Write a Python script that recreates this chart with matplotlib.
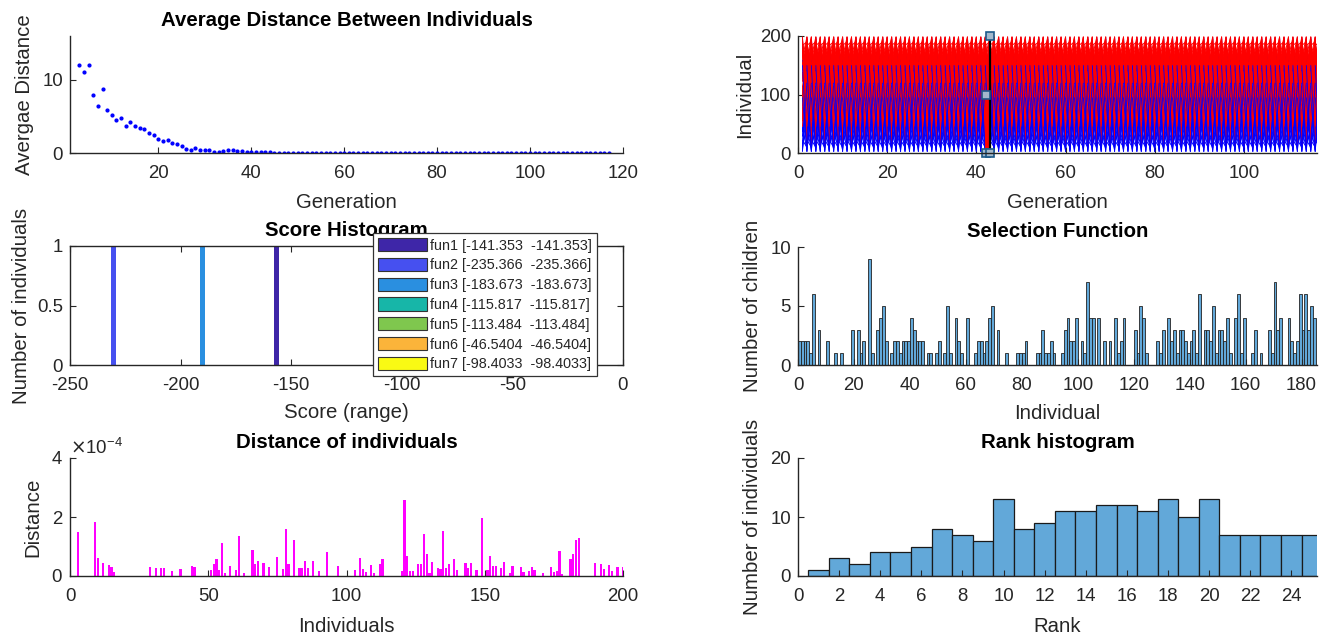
import matplotlib
matplotlib.use('Agg')
import matplotlib.pyplot as plt
from matplotlib.patches import Patch
from matplotlib.collections import LineCollection

plt.rcParams['font.family'] = ['Liberation Sans', 'DejaVu Sans']
plt.rcParams['axes.unicode_minus'] = False

TEXT = '#262626'
TICK_SIZE = 13.4
LABEL_SIZE = 14.7

# --- average distance between individuals ---
avg_gen = list(range(3, 118))
avg_dist = [12.0, 11.1, 12.05, 7.9, 6.4, 8.7, 5.9, 5.2, 4.5, 4.8,
            3.7, 4.25, 3.65, 3.45, 3.35, 2.75, 2.5, 1.9, 1.65, 1.8,
            1.4, 1.2, 0.95, 0.6, 0.4, 0.7, 0.45, 0.4,
            0.35, 0.2, 0.2, 0.25, 0.35, 0.4, 0.3, 0.3, 0.2, 0.15,
            0.1, 0.1, 0.08, 0.1, 0.06, 0.05, 0.05, 0.04, 0.03, 0.05,
            0.04, 0.03, 0.05, 0.03, 0.02, 0.03, 0.04, 0.02, 0.02, 0.03,
            0.02, 0.02, 0.03, 0.02, 0.01, 0.02, 0.02, 0.01, 0.02, 0.01,
            0.01, 0.02, 0.01, 0.01, 0.01, 0.02, 0.01, 0.01, 0.01, 0.01,
            0.01, 0.01, 0.0, 0.01, 0.01, 0.0, 0.01, 0.0, 0.0, 0.01,
            0.0, 0.0, 0.0, 0.01, 0.0, 0.0, 0.0, 0.0, 0.0, 0.0,
            0.0, 0.0, 0.0, 0.0, 0.0, 0.0, 0.0, 0.0, 0.0, 0.0,
            0.0, 0.0, 0.0, 0.0, 0.0, 0.0, 0.0]

# --- score histogram ---
score_pos = [-230.4, -190.2, -156.8]
score_count = [1, 1, 1]
score_bar_fun = [1, 2, 0]  # index into the legend colours
score_labels = ['fun1 [-141.353  -141.353]', 'fun2 [-235.366  -235.366]',
                'fun3 [-183.673  -183.673]', 'fun4 [-115.817  -115.817]',
                'fun5 [-113.484  -113.484]', 'fun6 [-46.5404  -46.5404]',
                'fun7 [-98.4033  -98.4033]']
score_colors = ['#3E26A8', '#4650F0', '#2A8FE0', '#17B6A8',
                '#7FC74E', '#FBB43A', '#F9FA14']

# --- distance of individuals (x 1e-4) ---
dist_ind = [3, 9, 10, 12, 14, 15, 16, 29, 31, 33, 34, 37, 40, 44, 45,
            51, 52, 53, 54, 55, 56, 58, 60, 61, 63, 66, 67, 68, 70, 72,
            75, 77, 78, 79, 81, 83, 84, 85, 86, 88, 90, 93, 97,
            103, 105, 106, 107, 109, 110, 112, 113, 120, 121, 122, 123, 124,
            126, 127, 128, 129, 130, 131, 133, 134, 135, 136, 137, 139, 140,
            143, 144, 145, 147, 149, 151, 152, 153, 154, 156, 157, 159, 160,
            163, 164, 166, 167, 168, 171, 174, 175, 176, 177, 178, 181, 182,
            183, 184, 190, 192, 193, 195, 196, 198, 200]
dist_val = [1.48, 1.82, 0.62, 0.45, 0.36, 0.31, 0.14, 0.32, 0.26, 0.28, 0.27, 0.17, 0.23, 0.33, 0.31,
            0.22, 0.42, 0.57, 0.2, 1.11, 0.1, 0.34, 0.2, 1.35, 0.09, 0.89, 0.42, 0.5, 0.45, 0.31,
            0.66, 0.25, 1.59, 0.41, 1.23, 0.28, 0.28, 0.5, 0.28, 0.5, 0.17, 0.83, 0.34,
            0.19, 0.6, 0.23, 0.14, 0.38, 0.09, 0.41, 0.57, 0.18, 2.57, 0.69, 0.17, 0.17,
            0.4, 0.4, 1.42, 0.76, 0.11, 0.47, 0.28, 0.24, 1.54, 0.28, 0.42, 0.59, 0.19,
            0.45, 0.28, 0.44, 0.22, 1.95, 0.2, 0.68, 0.34, 0.34, 0.26, 0.49, 0.09, 0.34,
            0.31, 0.14, 0.17, 0.32, 0.2, 0.11, 0.31, 0.14, 0.17, 0.86, 0.07, 0.58, 0.75,
            1.23, 1.28, 0.43, 0.42, 0.23, 0.36, 0.17, 0.31, 0.32]

# --- genealogy (representative links per generation step) ---
genealogy_gens = list(range(1, 117))
mut_parent = [2, 15, 28, 44, 60, 78, 96, 115, 135, 160, 182, 198, 8, 36, 5, 22]
mut_child = [185, 40, 170, 6, 130, 20, 195, 3, 60, 12, 90, 35, 110, 150, 75, 10]
xover_parent = [199, 192, 184, 178, 171, 163, 156, 148, 139, 131, 122, 114, 105, 97, 88,
                80, 71, 62, 54, 45, 196, 187, 174, 160, 144, 127, 110, 93, 76, 58]
xover_child = [14, 118, 190, 75, 160, 198, 100, 182, 55, 150, 195, 88, 170, 199, 135,
               186, 110, 194, 165, 140, 30, 145, 22, 189, 120, 197, 178, 125, 193, 176]
mut_top_parent = [150, 8, 95]
mut_top_child = [4, 120, 2]
selected_x = [43, 43]
selected_y = [0, 200]
selected_red_x = [42.3, 42.3]
selected_red_y = [0, 100]
handle_x = [43.0, 42.1, 42.1, 43.1]
handle_y = [200, 100, 0, 0]

# --- selection function ---
child_counts = [2, 2, 2, 2, 1, 6, 0, 3, 0, 0, 2, 0, 0, 1, 0, 1, 0, 0, 0, 3,
                0, 3, 1, 2, 0, 9, 1, 0, 3, 4, 5, 2, 0, 1, 2, 2, 1, 2, 2, 2,
                4, 3, 2, 2, 2, 0, 1, 1, 0, 1, 2, 0, 1, 5, 1, 0, 4, 2, 1, 0,
                4, 0, 0, 1, 2, 2, 1, 2, 4, 5, 0, 3, 0, 0, 1, 0, 0, 0, 1, 1,
                1, 2, 0, 0, 0, 1, 1, 3, 1, 1, 2, 1, 0, 0, 1, 3, 4, 2, 2, 4,
                0, 2, 1, 7, 4, 4, 0, 4, 0, 2, 0, 2, 0, 4, 1, 2, 4, 0, 0, 0,
                3, 1, 5, 4, 1, 0, 0, 0, 2, 1, 3, 0, 4, 2, 3, 1, 3, 3, 2, 1,
                2, 3, 1, 6, 0, 3, 3, 2, 5, 1, 3, 3, 2, 4, 1, 0, 4, 6, 1, 4,
                0, 0, 1, 3, 0, 1, 0, 0, 3, 1, 7, 3, 4, 0, 0, 4, 2, 1, 2, 6,
                3, 6, 3, 5, 4]
child_ids = list(range(1, len(child_counts) + 1))

# --- rank histogram ---
rank_ids = list(range(1, 26))
rank_counts = [1, 3, 2, 4, 4, 5, 8, 7, 6, 13, 8, 9, 11, 11, 12, 12, 11, 13, 10, 13,
               7, 7, 7, 7, 7]

W, H = 1324, 636
fig = plt.figure(figsize=(W / 100, H / 100), dpi=100)


def make_axes(x0, x1, y0, y1):
    return fig.add_axes([x0 / W, 1 - y1 / H, (x1 - x0) / W, (y1 - y0) / H])


def style(ax, box=False):
    for side in ['left', 'bottom', 'top', 'right']:
        ax.spines[side].set_color(TEXT)
        ax.spines[side].set_linewidth(1.0)
    if not box:
        ax.spines['top'].set_visible(False)
        ax.spines['right'].set_visible(False)
    ax.tick_params(direction='in', length=4, width=0.8, colors=TEXT,
                   labelsize=TICK_SIZE, pad=5, top=box, right=box)
    ax.tick_params(axis='x', pad=8.5)


def labels(ax, title, xlabel, ylabel, ylab_x, xlab_y):
    if title:
        ax.set_title(title, fontsize=LABEL_SIZE, fontweight='bold', color='black', pad=7)
    ax.set_xlabel(xlabel, fontsize=LABEL_SIZE, color=TEXT)
    ax.set_ylabel(ylabel, fontsize=LABEL_SIZE, color=TEXT)
    ax.yaxis.set_label_coords(ylab_x, 0.5)
    ax.xaxis.set_label_coords(0.5, xlab_y)


# top-left
ax1 = make_axes(70, 623, 36, 153)
style(ax1)
ax1.plot(avg_gen, avg_dist, '.', color='#0000FF', ms=4)
ax1.set_xlim(1, 120)
ax1.set_ylim(0, 16)
ax1.set_xticks([20, 40, 60, 80, 100, 120])
ax1.set_yticks([0, 10])
labels(ax1, 'Average Distance Between Individuals', 'Generation', 'Avergae Distance', -0.065, -0.34)

# middle-left
ax2 = make_axes(70, 623, 246, 365)
style(ax2, box=True)
ax2.bar(score_pos, score_count, width=2.2,
        color=[score_colors[i] for i in score_bar_fun], linewidth=0)
ax2.set_xlim(-250, 0)
ax2.set_ylim(0, 1)
ax2.set_xticks([-250, -200, -150, -100, -50, 0])
ax2.set_yticks([0, 0.5, 1])
ax2.set_yticklabels(['0', '0.5', '1'])
labels(ax2, 'Score Histogram', 'Score (range)', 'Number of individuals', -0.07, -0.32)
handles = [Patch(facecolor=c, edgecolor='#333333', linewidth=0.8) for c in score_colors]
leg = ax2.legend(handles, score_labels, loc='upper left',
                 bbox_to_anchor=(372.7 / W, 1 - 233 / H), bbox_transform=fig.transFigure,
                 fontsize=10.4, handlelength=3.4, handleheight=1.04, labelspacing=0.36,
                 handletextpad=0.25, borderpad=0.35, borderaxespad=0,
                 fancybox=False, framealpha=1, edgecolor='#333333')
leg.get_frame().set_linewidth(0.9)
for t in leg.get_texts():
    t.set_color(TEXT)

# bottom-left
ax3 = make_axes(70, 623, 458, 576)
style(ax3)
ax3.bar(dist_ind, [v * 1e-4 for v in dist_val], width=0.8, color='#FF00FF', linewidth=0)
ax3.set_xlim(0, 200)
ax3.set_ylim(0, 4e-4)
ax3.set_xticks([0, 50, 100, 150, 200])
ax3.set_yticks([0, 2e-4, 4e-4])
ax3.ticklabel_format(axis='y', style='sci', scilimits=(0, 0), useMathText=True)
ax3.yaxis.get_offset_text().set_fontsize(TICK_SIZE)
ax3.yaxis.get_offset_text().set_color(TEXT)
labels(ax3, 'Distance of individuals', 'Individuals', 'Distance', -0.05, -0.35)

# top-right: genealogy
ax4 = make_axes(798, 1317, 36, 153)
style(ax4)
blue_segs = [[(g, p), (g + 1, c)] for g in genealogy_gens for p, c in zip(mut_parent, mut_child)]
red_segs = [[(g, p), (g + 1, c)] for g in genealogy_gens for p, c in zip(xover_parent, xover_child)]
top_segs = [[(g, p), (g + 1, c)] for g in genealogy_gens for p, c in zip(mut_top_parent, mut_top_child)]
ax4.add_collection(LineCollection(blue_segs, colors='#0000FF', linewidths=0.7))
ax4.add_collection(LineCollection(red_segs, colors='#FF0000', linewidths=0.7))
ax4.add_collection(LineCollection(top_segs, colors='#0000FF', linewidths=0.6))
ax4.plot(selected_red_x, selected_red_y, color='#FF0000', lw=3.5, solid_capstyle='butt')
ax4.plot(selected_x, selected_y, color='black', lw=1.6)
ax4.plot(handle_x, handle_y, 's', ls='none', ms=6, mfc='#A3B8CC', mec='#1C5A8A', mew=1.2,
         clip_on=False)
ax4.set_xlim(0, 116.4)
ax4.set_ylim(0, 200)
ax4.set_xticks([0, 20, 40, 60, 80, 100])
ax4.set_yticks([0, 100, 200])
labels(ax4, None, 'Generation', 'Individual', -0.085, -0.34)

# middle-right: selection function
ax5 = make_axes(798, 1317, 247, 365)
style(ax5)
ax5.bar([i - 0.5 for i in child_ids], child_counts, width=1, color='#62A8D9',
        edgecolor='#222222', linewidth=0.6)
ax5.set_xlim(0, 185.5)
ax5.set_ylim(0, 10)
ax5.set_xticks(list(range(0, 181, 20)))
ax5.set_yticks([0, 5, 10])
labels(ax5, 'Selection Function', 'Individual', 'Number of children', -0.07, -0.33)

# bottom-right: rank histogram
ax6 = make_axes(798, 1317, 458, 576)
style(ax6)
ax6.bar(rank_ids, rank_counts, width=1, color='#62A8D9', edgecolor='#1A1A1A', linewidth=0.9)
ax6.set_xlim(0, 25.25)
ax6.set_ylim(0, 20)
ax6.set_xticks(list(range(0, 25, 2)))
ax6.set_yticks([0, 10, 20])
labels(ax6, 'Rank histogram', 'Rank', 'Number of individuals', -0.07, -0.35)

fig.savefig('out.png', dpi=100)
